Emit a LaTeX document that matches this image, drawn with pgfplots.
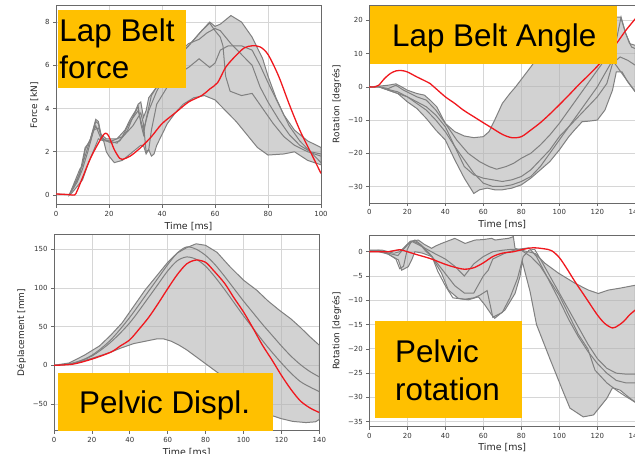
\documentclass[border=0pt]{standalone}
\usepackage{fontspec}
\setmainfont{DejaVu Sans}
\newfontfamily\boxfont{Liberation Sans}
\usepackage{pgfplots}
\pgfplotsset{compat=1.18}

\definecolor{corrfill}{RGB}{178,178,178}
\definecolor{linegray}{RGB}{128,128,128}
\definecolor{redline}{RGB}{240,24,30}
\definecolor{boxorange}{RGB}{255,192,0}
\definecolor{gridgray}{RGB}{214,214,214}
\definecolor{spine}{RGB}{105,105,105}

\pgfplotsset{
  panel/.style={
    scale only axis, anchor=south west,
    axis line style={spine, line width=0.8bp},
    grid=major, grid style={gridgray, line width=0.8bp},
    tick align=outside, tick pos=left,
    major tick length=3bp,
    every tick/.style={spine, line width=0.7bp},
    ticklabel style={font=\fontsize{7}{8}\selectfont, text=black!80},
    xlabel style={font=\fontsize{9.5}{10}\selectfont, text=black!85, yshift=1.5bp},
    ylabel style={font=\fontsize{9}{10}\selectfont, text=black!85},
    /pgf/number format/assume math mode=true,
    xlabel={Time [ms]},
  },
  corr/.style={fill=corrfill, fill opacity=0.59, draw=linegray, line width=1bp},
  gl/.style={linegray, line width=1bp, mark=none},
  rl/.style={redline, line width=1.3bp, mark=none, smooth},
}
\tikzset{boxtxt/.style={inner sep=0pt, font=\boxfont\fontsize{31.5}{32}\selectfont}}

\begin{document}
\begin{tikzpicture}[x=1bp,y=1bp]
\useasboundingbox (0,0) rectangle (635,454);
\clip (0,0) rectangle (635,454);

% ---- Lap belt force
\begin{axis}[panel, at={(56bp,249.2bp)}, width=265bp, height=199bp,
  xmin=0, xmax=100, ymin=-0.45, ymax=8.75,
  xtick={0,20,...,100}, ytick={0,2,...,8}, ylabel={Force [kN]}]
\addplot[corr] coordinates {
 (5,0) (7,0.6) (9,1.2) (10,1.35) (11,2.1) (13,2.6) (15,3.5) (16,3.4) (17,2.8)
 (19,2.6) (21,2.6) (23,2.6) (26,3.0) (28,3.5) (30,3.9) (31,4.2) (32,4.3) (33,3.6)
 (34,3.9) (35,4.5) (38,5.0) (40,5.6) (45,6.3) (50,6.9) (55,7.6) (58,8.0) (60,7.8)
 (62,7.9) (66,8.3) (70,8.0) (74,7.3) (78,6.3) (80,5.5) (83,4.5) (86,3.7) (90,3.0)
 (95,2.5) (100,2.2)
 (100,1.4) (95,1.6) (90,2.0) (86,1.9) (80,1.85) (76,2.2) (72,2.8) (68,3.4) (64,3.9)
 (60,4.4) (56,4.6) (52,4.5) (48,4.2) (45,3.8) (42,3.3) (40,2.8) (38,2.3) (37,1.9)
 (36,1.8) (35,2.1) (34,1.9) (33,2.3) (32,2.3) (30,2.1) (28,1.9) (25,1.6) (22,1.5)
 (20,1.8) (19,2.0) (18,2.5) (16,2.6) (14,2.0) (12,1.4) (10,0.7) (8,0.4) (6,0.1) (5,0)
} -- cycle;
\addplot[gl] coordinates {
 (0,0.05) (5,0.02) (7,0.5) (9,1.0) (11,2.2) (13,2.5) (15,3.4) (16,3.3) (17,2.7) (19,2.5)
 (21,2.4) (24,2.5) (27,3.0) (29,3.6) (31,4.1) (32,3.3) (33,2.8) (34,3.5) (36,4.6)
 (40,5.4) (45,6.2) (50,6.9) (55,7.6) (58,7.95) (60,7.6) (62,7.3) (63,6.9) (64,5.5)
 (65.7,4.8) (70,4.6) (74,4.7) (78,4.0) (82,3.3) (86,2.7) (90,2.3) (95,2.0) (100,1.8)};
\addplot[gl] coordinates {
 (5,0) (8,0.6) (10,1.2) (12,2.0) (14,2.9) (15,3.2) (17,2.6) (20,2.5) (23,2.4) (26,2.8)
 (29,3.2) (32,3.8) (33,3.3) (34,2.0) (35,2.1) (36,3.0) (38,4.2) (42,5.0) (46,5.6)
 (50,5.9) (54,6.3) (58,5.9) (60,6.1) (62,6.7) (65,6.9) (70,6.9) (74,6.7) (77,6.0)
 (80,5.2) (84,4.2) (88,3.2) (92,2.5) (96,2.0) (100,1.5)};
\addplot[gl] coordinates {
 (5,0) (8,0.7) (11,1.8) (14,3.0) (16,3.1) (18,2.5) (21,2.5) (25,2.7) (28,3.4) (31,3.9)
 (33,3.0) (35,3.9) (38,4.8) (42,5.7) (46,6.5) (50,7.0) (54,7.2) (57,7.5) (60,7.7)
 (62,7.6) (66,7.0) (70,6.5) (74,6.0) (77,5.0) (80,4.3) (84,3.5) (88,2.8) (92,2.3)
 (96,2.0) (100,1.9)};
\addplot[rl] coordinates {
 (0,0.05) (5,0.02) (7,0) (8,0.2) (10,0.8) (13,1.7) (16,2.4) (18,2.8) (19,2.85) (20,2.7)
 (22,2.1) (24,1.7) (25,1.65) (28,1.8) (32,2.2) (36,2.7) (40,3.3) (45,3.8) (50,4.3)
 (55,4.6) (58,4.9) (61,5.2) (64,5.9) (67.5,6.4) (71,6.8) (74,6.9) (77,6.85) (80,6.5)
 (84,5.5) (88,4.2) (92,3.0) (96,2.0) (100,1.0)};
\end{axis}

% ---- Lap belt angle
\begin{axis}[panel, at={(369.3bp,250.9bp)}, width=266bp, height=197.6bp,
  xmin=0, xmax=140, ymin=-35, ymax=24.5,
  xtick={0,20,...,140}, ytick={-30,-20,...,20},
  yticklabels={−30,−20,−10,0,10,20}, ylabel={Rotation [degrés]}]
\addplot[corr] coordinates {
 (0,0) (5,0.2) (10,0.5) (14,0.9) (17,0) (20,-1) (25,-2) (29,-2.5) (32,-4) (35.5,-6)
 (40,-11) (45,-13.5) (50,-14.8) (55,-15.3) (60,-15) (63,-13.5) (66,-10) (70,-5)
 (74,-2) (77,0) (81,3) (85,6) (90,10) (95,14) (100,17) (105,19.5) (110,21) (115,22)
 (120,22.5) (125,22) (129,21) (132.3,21) (135,16) (137,13) (140,12.5)
 (140,-1.5) (136,1.5) (133,4.5) (130,4.5) (128,-1) (124,-7) (120,-10) (116,-10.3)
 (112,-10.5) (108,-13) (105,-15) (100,-19) (95,-22.5) (90,-25) (85,-27.5) (80,-29.5)
 (75,-30.5) (70,-31) (66,-31) (62,-30.5) (58,-31) (55,-32.1) (50,-27.5) (45,-22)
 (40,-16) (35,-13) (30,-9.5) (25,-6.5) (20,-4.5) (15,-2) (10,-1) (5,0) (0,0)
} -- cycle;
\addplot[gl] coordinates {
 (0,0) (5,0) (10,-0.5) (14,0.5) (18,-1) (25,-3) (30,-4) (35,-7) (40,-11) (46,-16)
 (52,-20) (58,-22.5) (63,-24) (67,-24.8) (72,-24) (76,-23) (80,-21.5) (85,-20)
 (90,-17.5) (95,-14.5) (100,-11) (105,-7) (110,-3) (115,1) (120,5) (125,9) (130,14)
 (132.5,21) (135,16) (138,12) (140,11.5)};
\addplot[gl] coordinates {
 (0,0) (5,0) (10,-1) (15,-2) (20,-3) (25,-4.5) (30,-6) (35,-8.5) (40,-12) (45,-18)
 (50,-24) (55,-26.5) (60,-27.5) (65,-28) (70,-28.5) (75,-28) (80,-27) (85,-25)
 (90,-22) (95,-19) (100,-15) (105,-12) (110,-9) (115,-6) (120,-3) (125,1) (128,7)
 (132,9) (136,8) (140,6.5)};
\addplot[gl] coordinates {
 (0,0) (5,0) (10,-0.8) (15,-1.5) (20,-3) (25,-5) (30,-7) (35,-10) (40,-13.5) (45,-18)
 (50,-22) (55,-26) (60,-29) (65,-30) (70,-30) (75,-29.5) (80,-28.5) (85,-27)
 (90,-24) (95,-20) (100,-16) (105,-12) (110,-8) (115,-4) (120,0) (124,4) (128,8)
 (133,4) (140,-1.5)};
\addplot[rl] coordinates {
 (0,0) (3,0) (5,0.5) (8,2.5) (11,4) (14,4.8) (17,4.9) (20,4.5) (25,3) (32,1) (35,-0.5)
 (40,-3) (45,-5) (49.5,-7) (55,-9) (60,-10.8) (64,-12.2) (70,-14.3) (75,-15.3)
 (80,-15) (85,-13) (90,-10.8) (95,-8.2) (100,-5.4) (105,-2.5) (110,0.5) (115,3.3)
 (120,6.2) (125,9.5) (130,13) (135,17) (140,20.5)};
\end{axis}

% ---- Pelvic displacement
\begin{axis}[panel, at={(54bp,23.3bp)}, width=265.3bp, height=196.5bp,
  xmin=0, xmax=140, ymin=-84.5, ymax=169.4,
  xtick={0,20,...,140}, ytick={-50,0,50,100,150},
  yticklabels={−50,0,50,100,150}, ylabel={Déplacement [mm]}]
\addplot[corr] coordinates {
 (0,0) (8,3) (16,13) (24,25) (30,39) (36,55) (42,76) (48,97) (54,115) (60,133)
 (65,145) (70,152) (75,157) (80,155) (86,146) (93,127) (100,110) (107,97) (113,83)
 (119,71) (125,60) (130,49) (135,37) (140,26)
 (140,-70) (138,-73) (133,-74) (126,-72.5) (120,-69) (115,-65) (110,-58) (105,-48)
 (100,-36) (95,-26) (90,-16) (85,-7) (80,2) (75,11) (70,20) (66,26) (62,31) (58,34)
 (54,34) (48,31) (42,28) (35,22) (30,17) (20,9) (10,2) (0,0)
} -- cycle;
\addplot[gl, smooth] coordinates {
 (0,0) (10,3) (20,12) (30,30) (40,55) (50,88) (55,105) (60,122) (65,135) (70,140)
 (75,137) (80,128) (85,114) (90,98) (95,81) (100,64) (105,48) (110,32) (115,17)
 (120,3) (125,-10) (130,-21) (135,-28) (140,-34)};
\addplot[gl, smooth] coordinates {
 (0,0) (10,2.5) (20,13) (30,33) (40,62) (50,96) (55,113) (60,130) (65,145) (70,153)
 (75,150) (80,142) (85,130) (90,115) (95,99) (100,83) (105,68) (110,53) (115,39)
 (120,25) (125,12) (130,1) (135,-8) (140,-15)};
\addplot[rl] coordinates {
 (0,0) (10,1.5) (20,8) (30,17) (35,25) (40,33) (45,47) (50,62) (55,80) (60,99)
 (65,117) (70,131) (75,136) (80,133) (84,123) (90,106) (95,87) (100,69) (105,48)
 (110,26) (115,7) (120,-13) (125,-31) (130,-46) (135,-55) (140,-61)};
\end{axis}

% ---- Pelvic rotation
\begin{axis}[panel, at={(369.3bp,27.4bp)}, width=266bp, height=191.4bp,
  xmin=0, xmax=140, ymin=-36, ymax=3.4,
  xtick={0,20,...,140}, ytick={-35,-30,...,0},
  yticklabels={−35,−30,−25,−20,−15,−10,−5,0}, ylabel={Rotation [degrés]}]
\addplot[corr] coordinates {
 (0,0.3) (6.5,0.35) (10,0) (13,-0.3) (16,0) (19.7,1.4) (21.4,2.1) (25.8,2.4) (29,1.5)
 (32.8,0.7) (35,1.2) (38,1.7) (42,2.3) (45,2.75) (50.4,1.7) (55.6,2.4) (60,2.5)
 (64.4,2.75) (66.2,2.4) (70,2.6) (73.2,2.75) (75.8,3.1) (76.7,0.7) (80,0.3) (83.7,0)
 (87.2,-0.35) (92.5,-2.4) (99.5,-4.4) (108.3,-6.5) (115.3,-7.9) (120.5,-8.6)
 (125.8,-7.9) (132,-7.5) (140,-6.9)
 (140,-31) (136,-29.8) (132,-28.5) (128,-28) (125,-30.2) (118,-33.6) (112.6,-34)
 (105.6,-32.2) (102,-28.8) (95,-22) (88,-15) (84.6,-8.2) (80.5,-2) (79.3,-5.1)
 (76.7,-8.6) (71.4,-12) (66,-13.7) (64.4,-13) (60.9,-11) (57.4,-9.3) (52.1,-9.9)
 (46.8,-9.6) (41.6,-7.9) (38,-4.4) (32.8,-1) (28,-0.3) (24,0) (22.3,-1.7) (20.5,-3.1)
 (17,-3.8) (15.3,-1.7) (10,-0.5) (5,0) (0,0)
} -- cycle;
\addplot[gl] coordinates {
 (0,0.3) (5,0.3) (10,-0.5) (14,-1.5) (16,-3.5) (18,-3) (20,0.5) (22,2) (24,2.4)
 (26,1.8) (30,0) (33,-1) (36,-4) (40,-7) (44,-9.5) (50,-9.8) (55,-9.5) (58,-9)
 (62,-8) (65,-13.5) (70,-12.5) (74,-9.5) (78,-5.5) (81,-1) (84,0.3) (87,0.5)
 (90,-1.5) (95,-5) (100,-8.5) (105,-12) (110,-15.5) (115,-19) (120,-22) (125,-24)
 (130,-25) (135,-25.2) (140,-25.2)};
\addplot[gl] coordinates {
 (0,0) (5,0.3) (10,-0.3) (15,-0.8) (20,1.5) (23,2.2) (27,1.5) (32,-0.5) (36,-2.5)
 (40,-4.5) (45,-7) (50,-8.5) (55,-8.5) (60,-5) (62.6,-3.8) (65,-1.5) (72,-0.2)
 (78,0.5) (84,0.8) (88,-1) (92,-4) (96,-7) (100,-10) (105,-14) (110,-17.5) (115,-20.5)
 (120,-23) (125,-25) (130,-26.5) (135,-27) (140,-27)};
\addplot[gl] coordinates {
 (0,0) (10,0) (18,0.5) (22,2.2) (28,1) (35,-0.5) (40,-1.5) (45,-3) (50,-5) (55,-2.5)
 (60,-1) (65,0) (70,0.3) (75,0.5) (80,0.3) (85,-1) (90,-3) (95,-6) (100,-9)
 (105,-13) (110,-17) (115,-20) (118.8,-24.4) (125,-27) (130,-28.5) (135,-29.8)
 (140,-31)};
\addplot[rl] coordinates {
 (0,0) (5,0) (10,0) (16,0.4) (20,0) (25,-0.6) (32,-1.4) (40,-2.6) (45,-3.2) (50,-3.6)
 (55,-3.3) (60,-2.3) (65,-1) (70,-0.3) (76,0) (80,0.4) (86,0.8) (92,0.6) (96,0.2)
 (100,-1.2) (104,-3.5) (108,-6) (114,-9.5) (120,-13) (124,-14.8) (128,-15.7)
 (131,-15.2) (134,-14.3) (137,-13) (140,-12)};
\end{axis}

% ---- orange labels
\fill[boxorange] (57.7,366.3) rectangle (185.7,444);
\node[boxtxt, anchor=base west] at (59.3,412.3) {Lap Belt};
\node[boxtxt, anchor=base west] at (59.3,375) {force};
\fill[boxorange] (370,389.7) rectangle (617.3,448.3);
\node[boxtxt, anchor=base] at (494.2,407.3) {Lap Belt Angle};
\fill[boxorange] (58.3,23.3) rectangle (272.7,81.3);
\node[boxtxt, anchor=base west] at (79,40.7) {Pelvic Displ.};
\fill[boxorange] (375,36.3) rectangle (521.7,133.3);
\node[boxtxt, anchor=base west] at (395,91.7) {Pelvic};
\node[boxtxt, anchor=base west] at (395,53) {rotation};
\end{tikzpicture}
\end{document}
